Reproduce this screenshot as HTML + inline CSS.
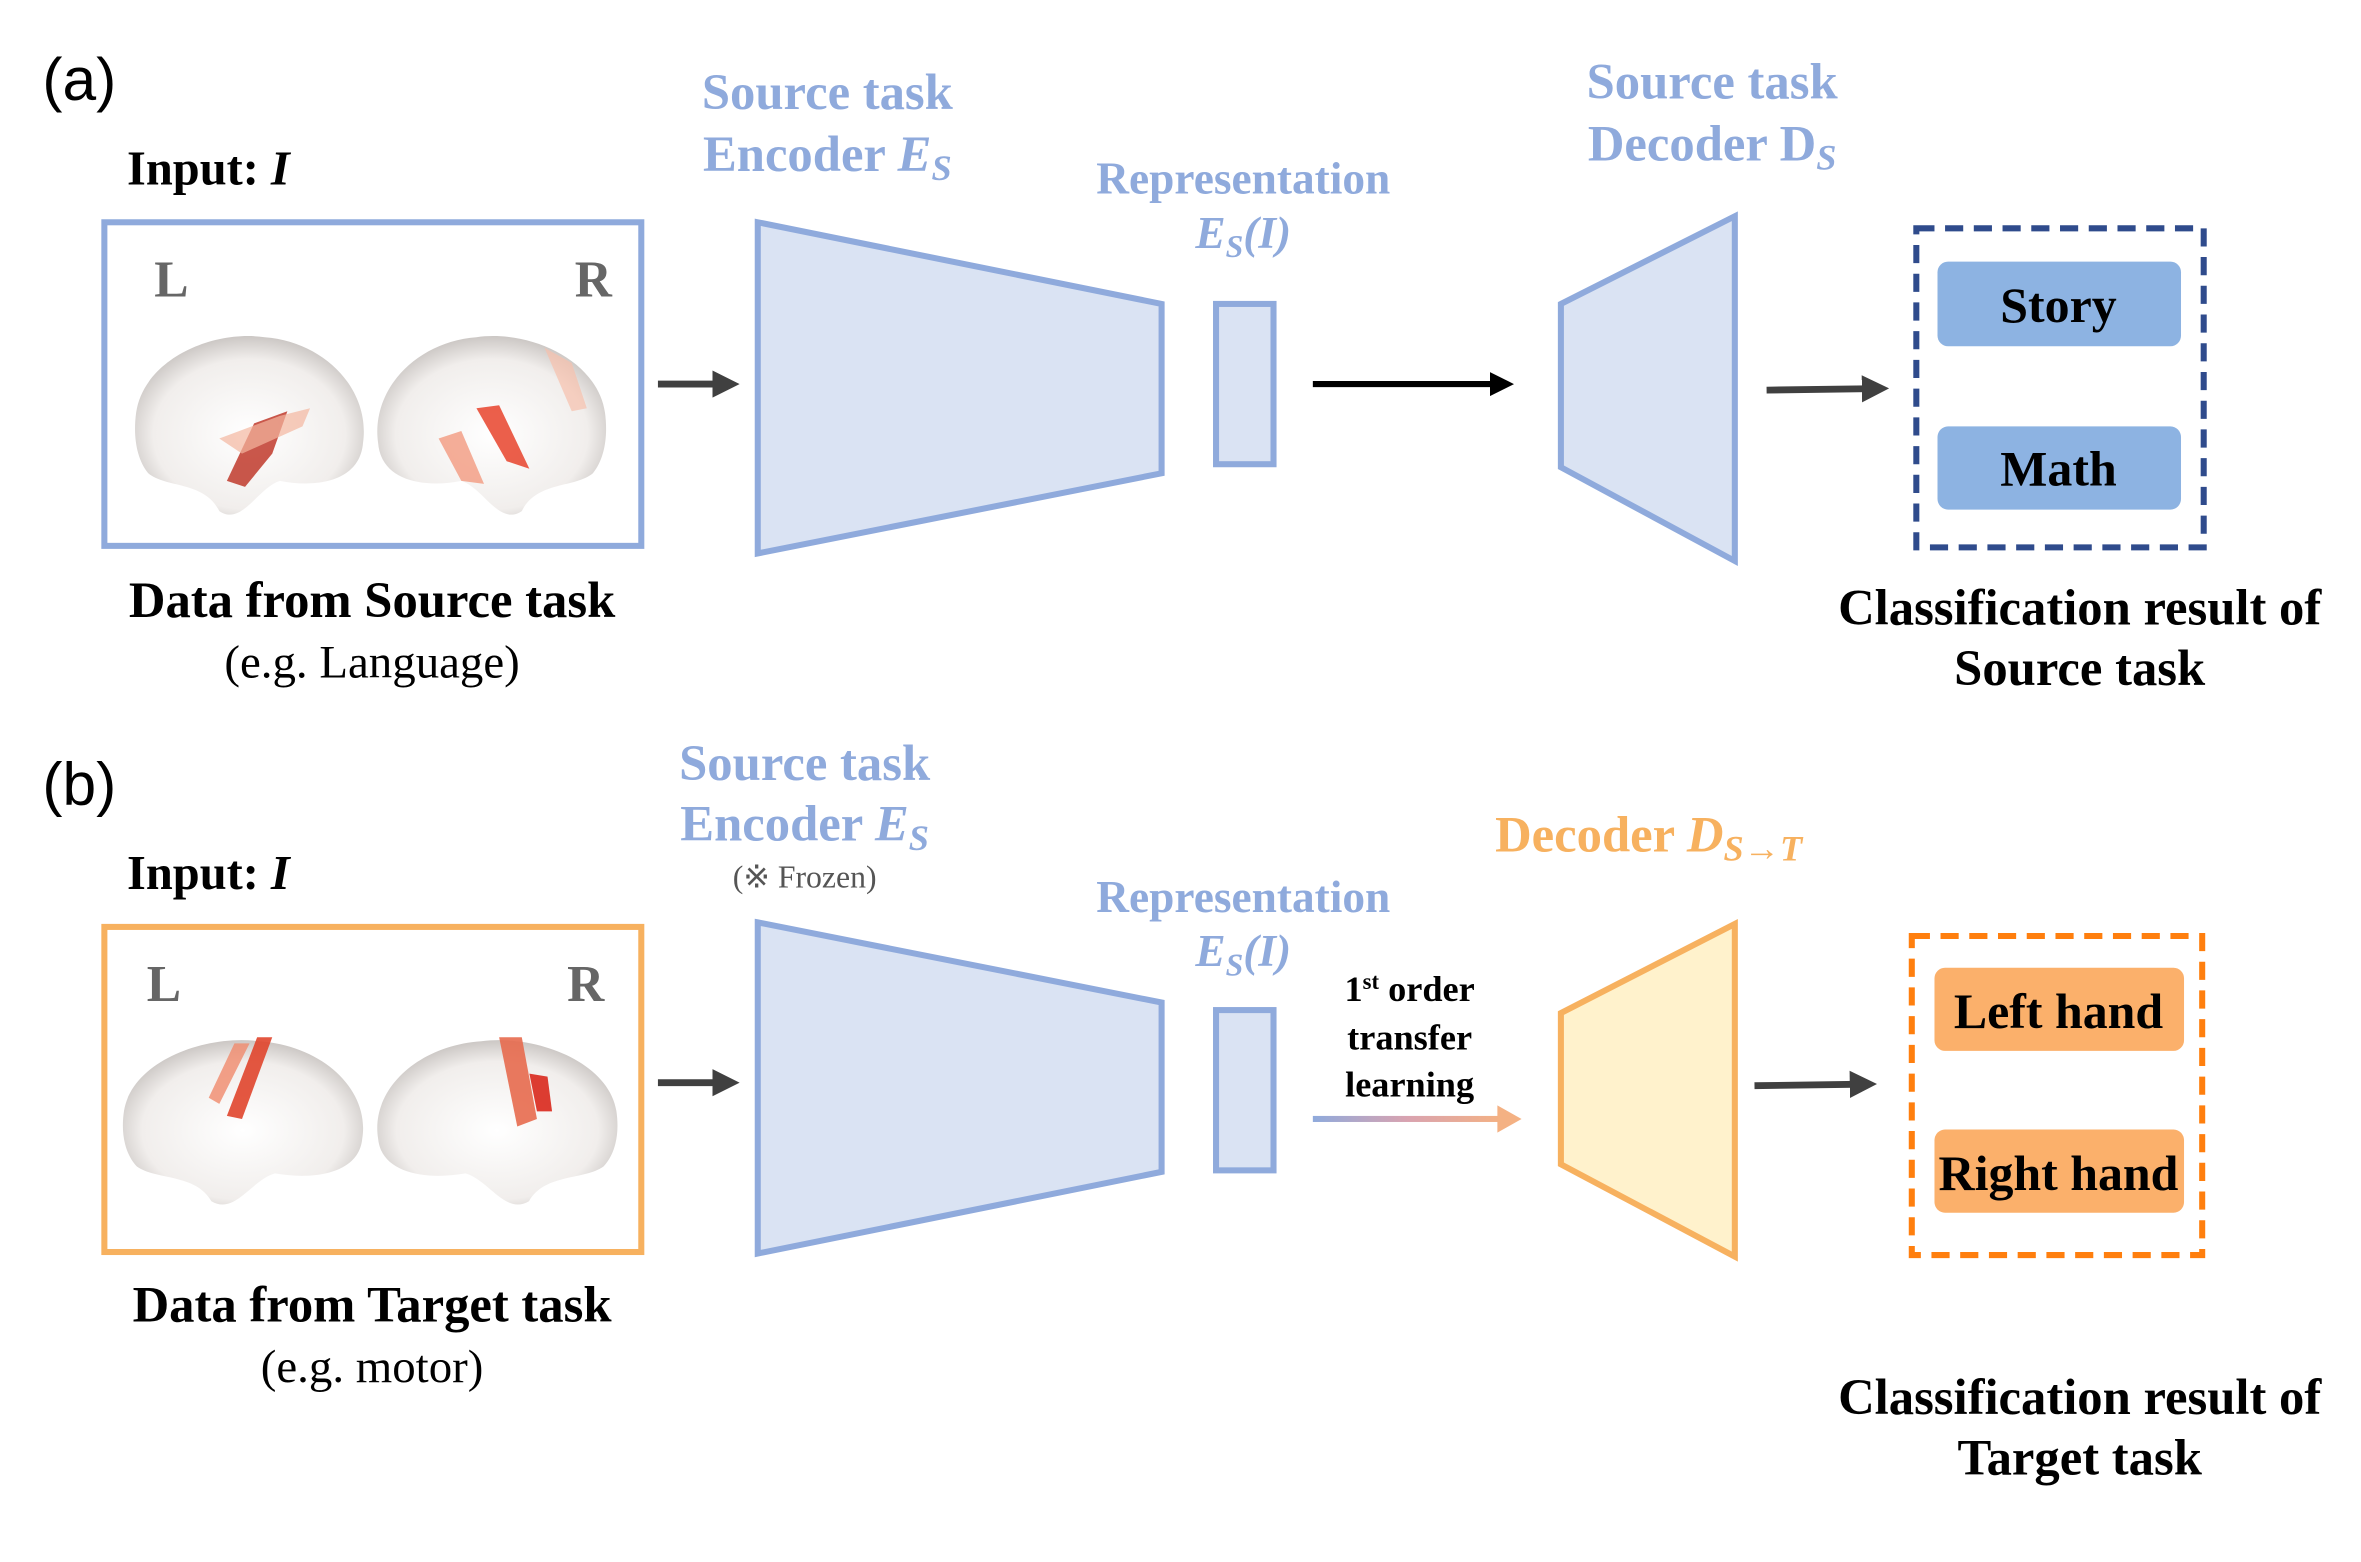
<!DOCTYPE html>
<html><head><meta charset="utf-8"><style>
html,body{margin:0;padding:0;background:#fff}
svg{display:block}
text{font-family:"Liberation Serif",serif}
</style></head><body>
<svg width="2361" height="1562" viewBox="0 0 1561 1033" preserveAspectRatio="none" xmlns="http://www.w3.org/2000/svg">
<defs>
<radialGradient id="br" cx="0.5" cy="0.55" r="0.6">
<stop offset="0" stop-color="#ffffff"/><stop offset="0.7" stop-color="#f1eeec"/><stop offset="1" stop-color="#bdb8b5"/>
</radialGradient>
<linearGradient id="ga" x1="0" x2="1"><stop offset="0" stop-color="#8faadc"/><stop offset="0.5" stop-color="#d9a3b0"/><stop offset="1" stop-color="#f4b183"/></linearGradient>
<marker id="ah" markerWidth="4" markerHeight="4" refX="2" refY="2" orient="auto" markerUnits="strokeWidth"><path d="M0,0 L4,2 L0,4 z" fill="#404040"/></marker>
<marker id="ahk" markerWidth="4" markerHeight="4" refX="2" refY="2" orient="auto" markerUnits="strokeWidth"><path d="M0,0 L4,2 L0,4 z" fill="#000"/></marker>
<g id="lb"><path d="M0,55 C5,20 50,0 85,5 C125,8 155,40 150,75 C148,100 120,105 95,100 C80,105 70,130 55,120 C45,100 20,105 8,95 C0,85 -2,70 0,55z" fill="url(#br)"/></g>
<g id="rb"><path d="M150,55 C145,20 100,0 65,5 C25,8 -5,40 0,75 C2,100 30,105 55,100 C70,105 80,130 95,120 C105,100 130,105 142,95 C150,85 152,70 150,55z" fill="url(#br)"/></g>
</defs>

<!-- (a) -->
<text x="28" y="66" font-size="40" style="font-family:'Liberation Sans',sans-serif">(a)</text>
<text x="84" y="122" font-size="32" font-weight="bold">Input: <tspan font-style="italic">I</tspan></text>
<rect x="69" y="147" width="355" height="214" fill="none" stroke="#8faadc" stroke-width="4"/>
<text x="102" y="196" font-size="34" font-weight="bold" fill="#666">L</text>
<text x="380" y="196" font-size="34" font-weight="bold" fill="#666">R</text>
<use href="#lb" transform="translate(90,218)"/>
<use href="#rb" transform="translate(250,218)"/>
<path d="M150,318 L168,280 L190,272 L180,300 L162,322z" fill="#c0392b" opacity="0.85"/>
<path d="M145,290 L185,275 L205,270 L200,282 L160,300z" fill="#f4b6a0" opacity="0.7"/>
<path d="M315,270 L330,268 L350,310 L335,305z" fill="#e8432c" opacity="0.85"/>
<path d="M290,290 L305,285 L320,320 L305,318z" fill="#f29a80" opacity="0.8"/>
<path d="M360,230 L378,240 L388,270 L378,272z" fill="#f7c1ad" opacity="0.7"/>
<text x="246" y="408" text-anchor="middle" font-size="33.5" font-weight="bold">Data from Source task</text>
<text x="246" y="448" text-anchor="middle" font-size="31">(e.g. Language)</text>
<line x1="435" y1="254" x2="480" y2="254" stroke="#404040" stroke-width="4.5" marker-end="url(#ah)"/>
<polygon points="501,147 768,201 768,313 501,366" fill="#dae3f3" stroke="#8faadc" stroke-width="4"/>
<text x="547" y="72" text-anchor="middle" font-size="33.5" font-weight="bold" fill="#8faadc">Source task</text>
<text x="547" y="113" text-anchor="middle" font-size="33.5" font-weight="bold" fill="#8faadc">Encoder <tspan font-style="italic">E<tspan font-size="24" dy="6">S</tspan></tspan></text>
<rect x="804" y="201" width="38" height="106" fill="#dae3f3" stroke="#8faadc" stroke-width="4"/>
<text x="822" y="128" text-anchor="middle" font-size="30" font-weight="bold" fill="#8faadc">Representation</text>
<text x="822" y="164" text-anchor="middle" font-size="30" font-weight="bold" font-style="italic" fill="#8faadc">E<tspan font-size="21" dy="6">S</tspan><tspan dy="-6">(I)</tspan></text>
<line x1="868" y1="254" x2="993" y2="254" stroke="#000" stroke-width="4" marker-end="url(#ahk)"/>
<polygon points="1032,201 1147,143 1147,371 1032,309" fill="#dae3f3" stroke="#8faadc" stroke-width="4"/>
<text x="1132" y="65" text-anchor="middle" font-size="33.5" font-weight="bold" fill="#8faadc">Source task</text>
<text x="1132" y="106" text-anchor="middle" font-size="33.5" font-weight="bold" fill="#8faadc">Decoder D<tspan font-size="24" dy="6" font-style="italic">S</tspan></text>
<line x1="1168" y1="258" x2="1240" y2="257" stroke="#404040" stroke-width="4.5" marker-end="url(#ah)"/>
<rect x="1267" y="151" width="190" height="211" fill="none" stroke="#2f4b8c" stroke-width="4" stroke-dasharray="12,7"/>
<rect x="1281" y="173" width="161" height="56" rx="7" fill="#8db3e2"/>
<rect x="1281" y="282" width="161" height="55" rx="7" fill="#8db3e2"/>
<text x="1361" y="213" text-anchor="middle" font-size="33" font-weight="bold">Story</text>
<text x="1361" y="321" text-anchor="middle" font-size="33" font-weight="bold">Math</text>
<text x="1375" y="413" text-anchor="middle" font-size="33.5" font-weight="bold">Classification result of</text>
<text x="1375" y="453" text-anchor="middle" font-size="33.5" font-weight="bold">Source task</text>

<!-- (b) -->
<text x="28" y="532" font-size="40" style="font-family:'Liberation Sans',sans-serif">(b)</text>
<text x="84" y="588" font-size="32" font-weight="bold">Input: <tspan font-style="italic">I</tspan></text>
<rect x="69" y="613" width="355" height="215" fill="none" stroke="#f7b15f" stroke-width="4"/>
<text x="97" y="662" font-size="34" font-weight="bold" fill="#666">L</text>
<text x="375" y="662" font-size="34" font-weight="bold" fill="#666">R</text>
<use href="#lb" transform="translate(82,684) scale(1.05,0.92)"/>
<use href="#rb" transform="translate(250,684) scale(1.05,0.92)"/>
<path d="M170,686 L180,686 L160,740 L150,738z" fill="#e0452c" opacity="0.9"/>
<path d="M155,690 L165,690 L145,730 L138,726z" fill="#f08a6c" opacity="0.8"/>
<path d="M330,686 L345,686 L355,740 L342,745z" fill="#e76a4e" opacity="0.9"/>
<path d="M350,710 L362,712 L365,735 L355,735z" fill="#d9281c" opacity="0.9"/>
<text x="246" y="874" text-anchor="middle" font-size="33.5" font-weight="bold">Data from Target task</text>
<text x="246" y="914" text-anchor="middle" font-size="31">(e.g. motor)</text>
<line x1="435" y1="716" x2="480" y2="716" stroke="#404040" stroke-width="4.5" marker-end="url(#ah)"/>
<polygon points="501,610 768,663 768,775 501,829" fill="#dae3f3" stroke="#8faadc" stroke-width="4"/>
<text x="532" y="516" text-anchor="middle" font-size="33.5" font-weight="bold" fill="#8faadc">Source task</text>
<text x="532" y="556" text-anchor="middle" font-size="33.5" font-weight="bold" fill="#8faadc">Encoder <tspan font-style="italic">E<tspan font-size="24" dy="6">S</tspan></tspan></text>
<text x="532" y="587" text-anchor="middle" font-size="21" fill="#555">(※ Frozen)</text>
<rect x="804" y="668" width="38" height="106" fill="#dae3f3" stroke="#8faadc" stroke-width="4"/>
<text x="822" y="603" text-anchor="middle" font-size="30" font-weight="bold" fill="#8faadc">Representation</text>
<text x="822" y="639" text-anchor="middle" font-size="30" font-weight="bold" font-style="italic" fill="#8faadc">E<tspan font-size="21" dy="6">S</tspan><tspan dy="-6">(I)</tspan></text>
<text x="932" y="662" text-anchor="middle" font-size="24" font-weight="bold">1<tspan font-size="15" dy="-8">st</tspan><tspan dy="8"> order</tspan></text>
<text x="932" y="694" text-anchor="middle" font-size="24" font-weight="bold">transfer</text>
<text x="932" y="725" text-anchor="middle" font-size="24" font-weight="bold">learning</text>
<rect x="868" y="738" width="125" height="4" fill="url(#ga)"/>
<path d="M990,731 L1006,740 L990,749z" fill="#f4b183"/>
<polygon points="1032,670 1147,611 1147,831 1032,770" fill="#fff2cc" stroke="#f7b15f" stroke-width="4"/>
<text x="1090" y="563" text-anchor="middle" font-size="33.5" font-weight="bold" fill="#f7b15f">Decoder <tspan font-style="italic">D<tspan font-size="24" dy="6">S→T</tspan></tspan></text>
<line x1="1160" y1="718" x2="1232" y2="717" stroke="#404040" stroke-width="4.5" marker-end="url(#ah)"/>
<rect x="1264" y="619" width="192" height="211" fill="none" stroke="#ff7f0e" stroke-width="4" stroke-dasharray="12,7"/>
<rect x="1279" y="640" width="165" height="55" rx="7" fill="#fbb06b"/>
<rect x="1279" y="747" width="165" height="55" rx="7" fill="#fbb06b"/>
<text x="1361" y="680" text-anchor="middle" font-size="33" font-weight="bold">Left hand</text>
<text x="1361" y="787" text-anchor="middle" font-size="33" font-weight="bold">Right hand</text>
<text x="1375" y="935" text-anchor="middle" font-size="33.5" font-weight="bold">Classification result of</text>
<text x="1375" y="975" text-anchor="middle" font-size="33.5" font-weight="bold">Target task</text>
</svg>
</body></html>
